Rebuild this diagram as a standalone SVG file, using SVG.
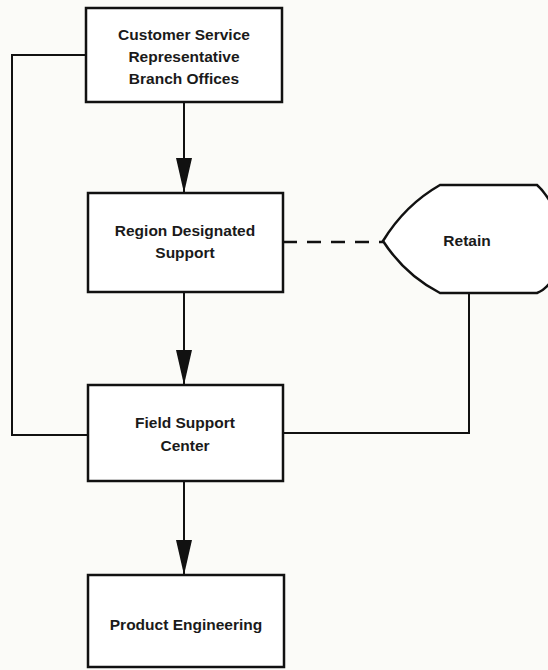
<svg xmlns="http://www.w3.org/2000/svg" width="548" height="670" viewBox="0 0 548 670">
<style>
.box{fill:#fff;stroke:#111;stroke-width:2.5}
.ln{fill:none;stroke:#111;stroke-width:2}
.dash{fill:none;stroke:#111;stroke-width:2.5;stroke-dasharray:14 10}
.t{font-family:"Liberation Sans","DejaVu Sans",sans-serif;font-weight:bold;font-size:15.5px;fill:#1a1a1a;text-anchor:middle}
.ah{fill:#111}
</style>
<rect width="548" height="670" fill="#fbfbf8"/>
<g id="connectors">
<polyline class="ln" points="86,55 12,55 12,435 88,435"/>
<polyline class="ln" points="469,293 469,433 283,433"/>
<line class="dash" x1="283" y1="242" x2="383" y2="242"/>
<line class="ln" x1="184" y1="102" x2="184" y2="193"/>
<line class="ln" x1="184" y1="292" x2="184" y2="385"/>
<line class="ln" x1="184" y1="481" x2="184" y2="575"/>
<polygon class="ah" points="176,158 192,158 184,193"/>
<polygon class="ah" points="176,350 192,350 184,385"/>
<polygon class="ah" points="176,540 192,540 184,575"/>
</g>
<g id="n1">
<rect class="box" x="86" y="8" width="196" height="94"/>
<text class="t" x="184" y="40">Customer Service</text>
<text class="t" x="184" y="62">Representative</text>
<text class="t" x="184" y="84">Branch Offices</text>
</g>
<g id="n2">
<rect class="box" x="88" y="193" width="195" height="99"/>
<text class="t" x="185" y="236">Region Designated</text>
<text class="t" x="185" y="258">Support</text>
</g>
<g id="n3">
<rect class="box" x="88" y="385" width="195" height="96"/>
<text class="t" x="185" y="428">Field Support</text>
<text class="t" x="185" y="451">Center</text>
</g>
<g id="n4">
<rect class="box" x="88" y="575" width="196" height="92"/>
<text class="t" x="186" y="630">Product Engineering</text>
</g>
<g id="retain">
<path class="box" d="M383,241 Q405,205 440,185 L537,185 Q545,192 552,205 L552,280 Q545,290 537,293 L440,293 Q405,275 383,241 Z"/>
<text class="t" x="467" y="246">Retain</text>
</g>
</svg>
